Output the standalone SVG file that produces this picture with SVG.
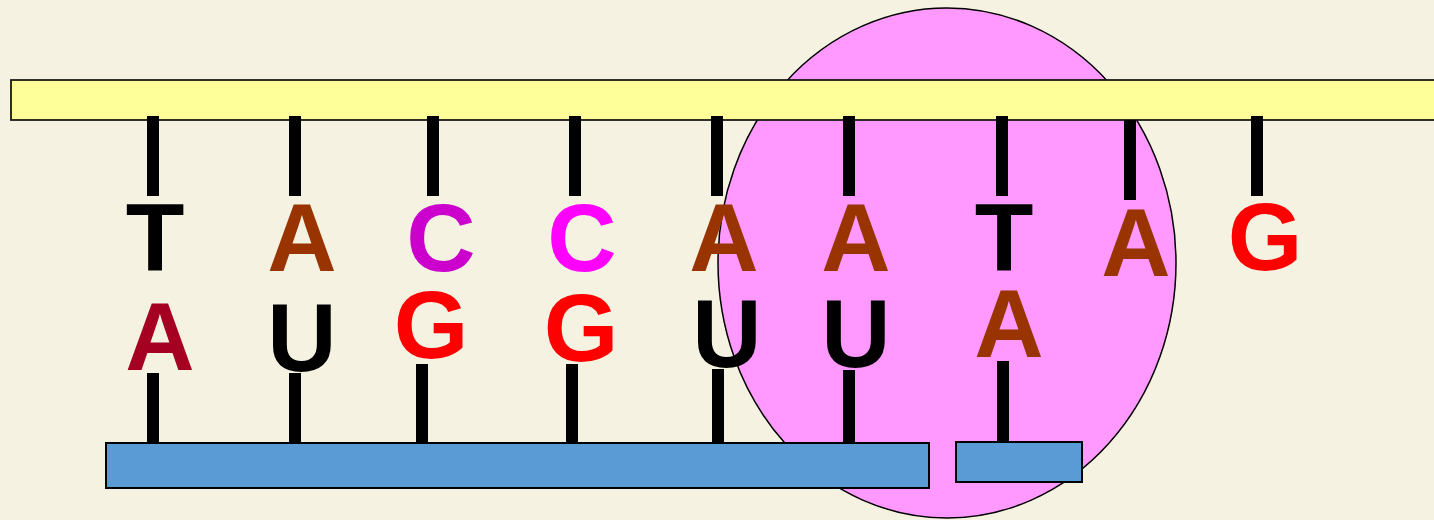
<svg xmlns="http://www.w3.org/2000/svg" width="1434" height="520" viewBox="0 0 1434 520">
<style>
.tick{stroke:#000;stroke-width:12;}
.base{font-family:"Liberation Sans",Arial,sans-serif;font-weight:bold;font-size:96px;text-anchor:middle;}
.bar{stroke:#000;stroke-width:2;}
</style>
<rect x="0" y="0" width="1434" height="520" fill="#f5f2e2"/>
<g id="ribosome"><ellipse cx="947" cy="263" rx="229" ry="255" fill="#ff99ff" stroke="#000" stroke-width="1.5"/></g>
<g id="dna-strand"><rect x="11" y="80" width="1440" height="40" fill="#ffff99" stroke="#1a1a1a" stroke-width="1.8"/></g>
<g id="mrna-strand"><rect x="106" y="443" width="823" height="45" fill="#5b9bd5" class="bar"/></g>
<g id="trna-piece"><rect x="956" y="442" width="126" height="40" fill="#5b9bd5" class="bar"/></g>
<g id="connectors">
<line class="tick" x1="153" y1="116" x2="153" y2="196"/>
<line class="tick" x1="295" y1="116" x2="295" y2="196"/>
<line class="tick" x1="433" y1="116" x2="433" y2="196"/>
<line class="tick" x1="575" y1="116" x2="575" y2="196"/>
<line class="tick" x1="717" y1="116" x2="717" y2="196"/>
<line class="tick" x1="849" y1="116" x2="849" y2="196"/>
<line class="tick" x1="1002" y1="116" x2="1002" y2="196"/>
<line class="tick" x1="1130" y1="120" x2="1130" y2="200"/>
<line class="tick" x1="1257" y1="116" x2="1257" y2="196"/>
<line class="tick" x1="153" y1="373" x2="153" y2="443"/>
<line class="tick" x1="295" y1="373" x2="295" y2="443"/>
<line class="tick" x1="422" y1="364" x2="422" y2="443"/>
<line class="tick" x1="572" y1="364" x2="572" y2="443"/>
<line class="tick" x1="718" y1="369" x2="718" y2="443"/>
<line class="tick" x1="849" y1="370" x2="849" y2="443"/>
<line class="tick" x1="1003" y1="361" x2="1003" y2="441"/>
</g>
<g id="dna-bases">
<text class="base" x="155" y="271" fill="#000">T</text>
<text class="base" x="302" y="271" fill="#993300">A</text>
<text class="base" x="441" y="271" fill="#cc00cc">C</text>
<text class="base" x="582" y="271" fill="#ff00ff">C</text>
<text class="base" x="724" y="271" fill="#993300">A</text>
<text class="base" x="856" y="271" fill="#993300">A</text>
<text class="base" x="1004" y="271" fill="#000">T</text>
<text class="base" x="1136" y="276" fill="#993300">A</text>
<text class="base" x="1265" y="270" fill="#ff0000">G</text>
</g>
<g id="rna-bases">
<text class="base" x="160" y="370" fill="#a50021">A</text>
<text class="base" x="302" y="371" fill="#000">U</text>
<text class="base" x="431" y="358" fill="#ff0000">G</text>
<text class="base" x="581" y="361" fill="#ff0000">G</text>
<text class="base" x="727" y="367" fill="#000">U</text>
<text class="base" x="856" y="367" fill="#000">U</text>
<text class="base" x="1009" y="357" fill="#993300">A</text>
</g>
</svg>
